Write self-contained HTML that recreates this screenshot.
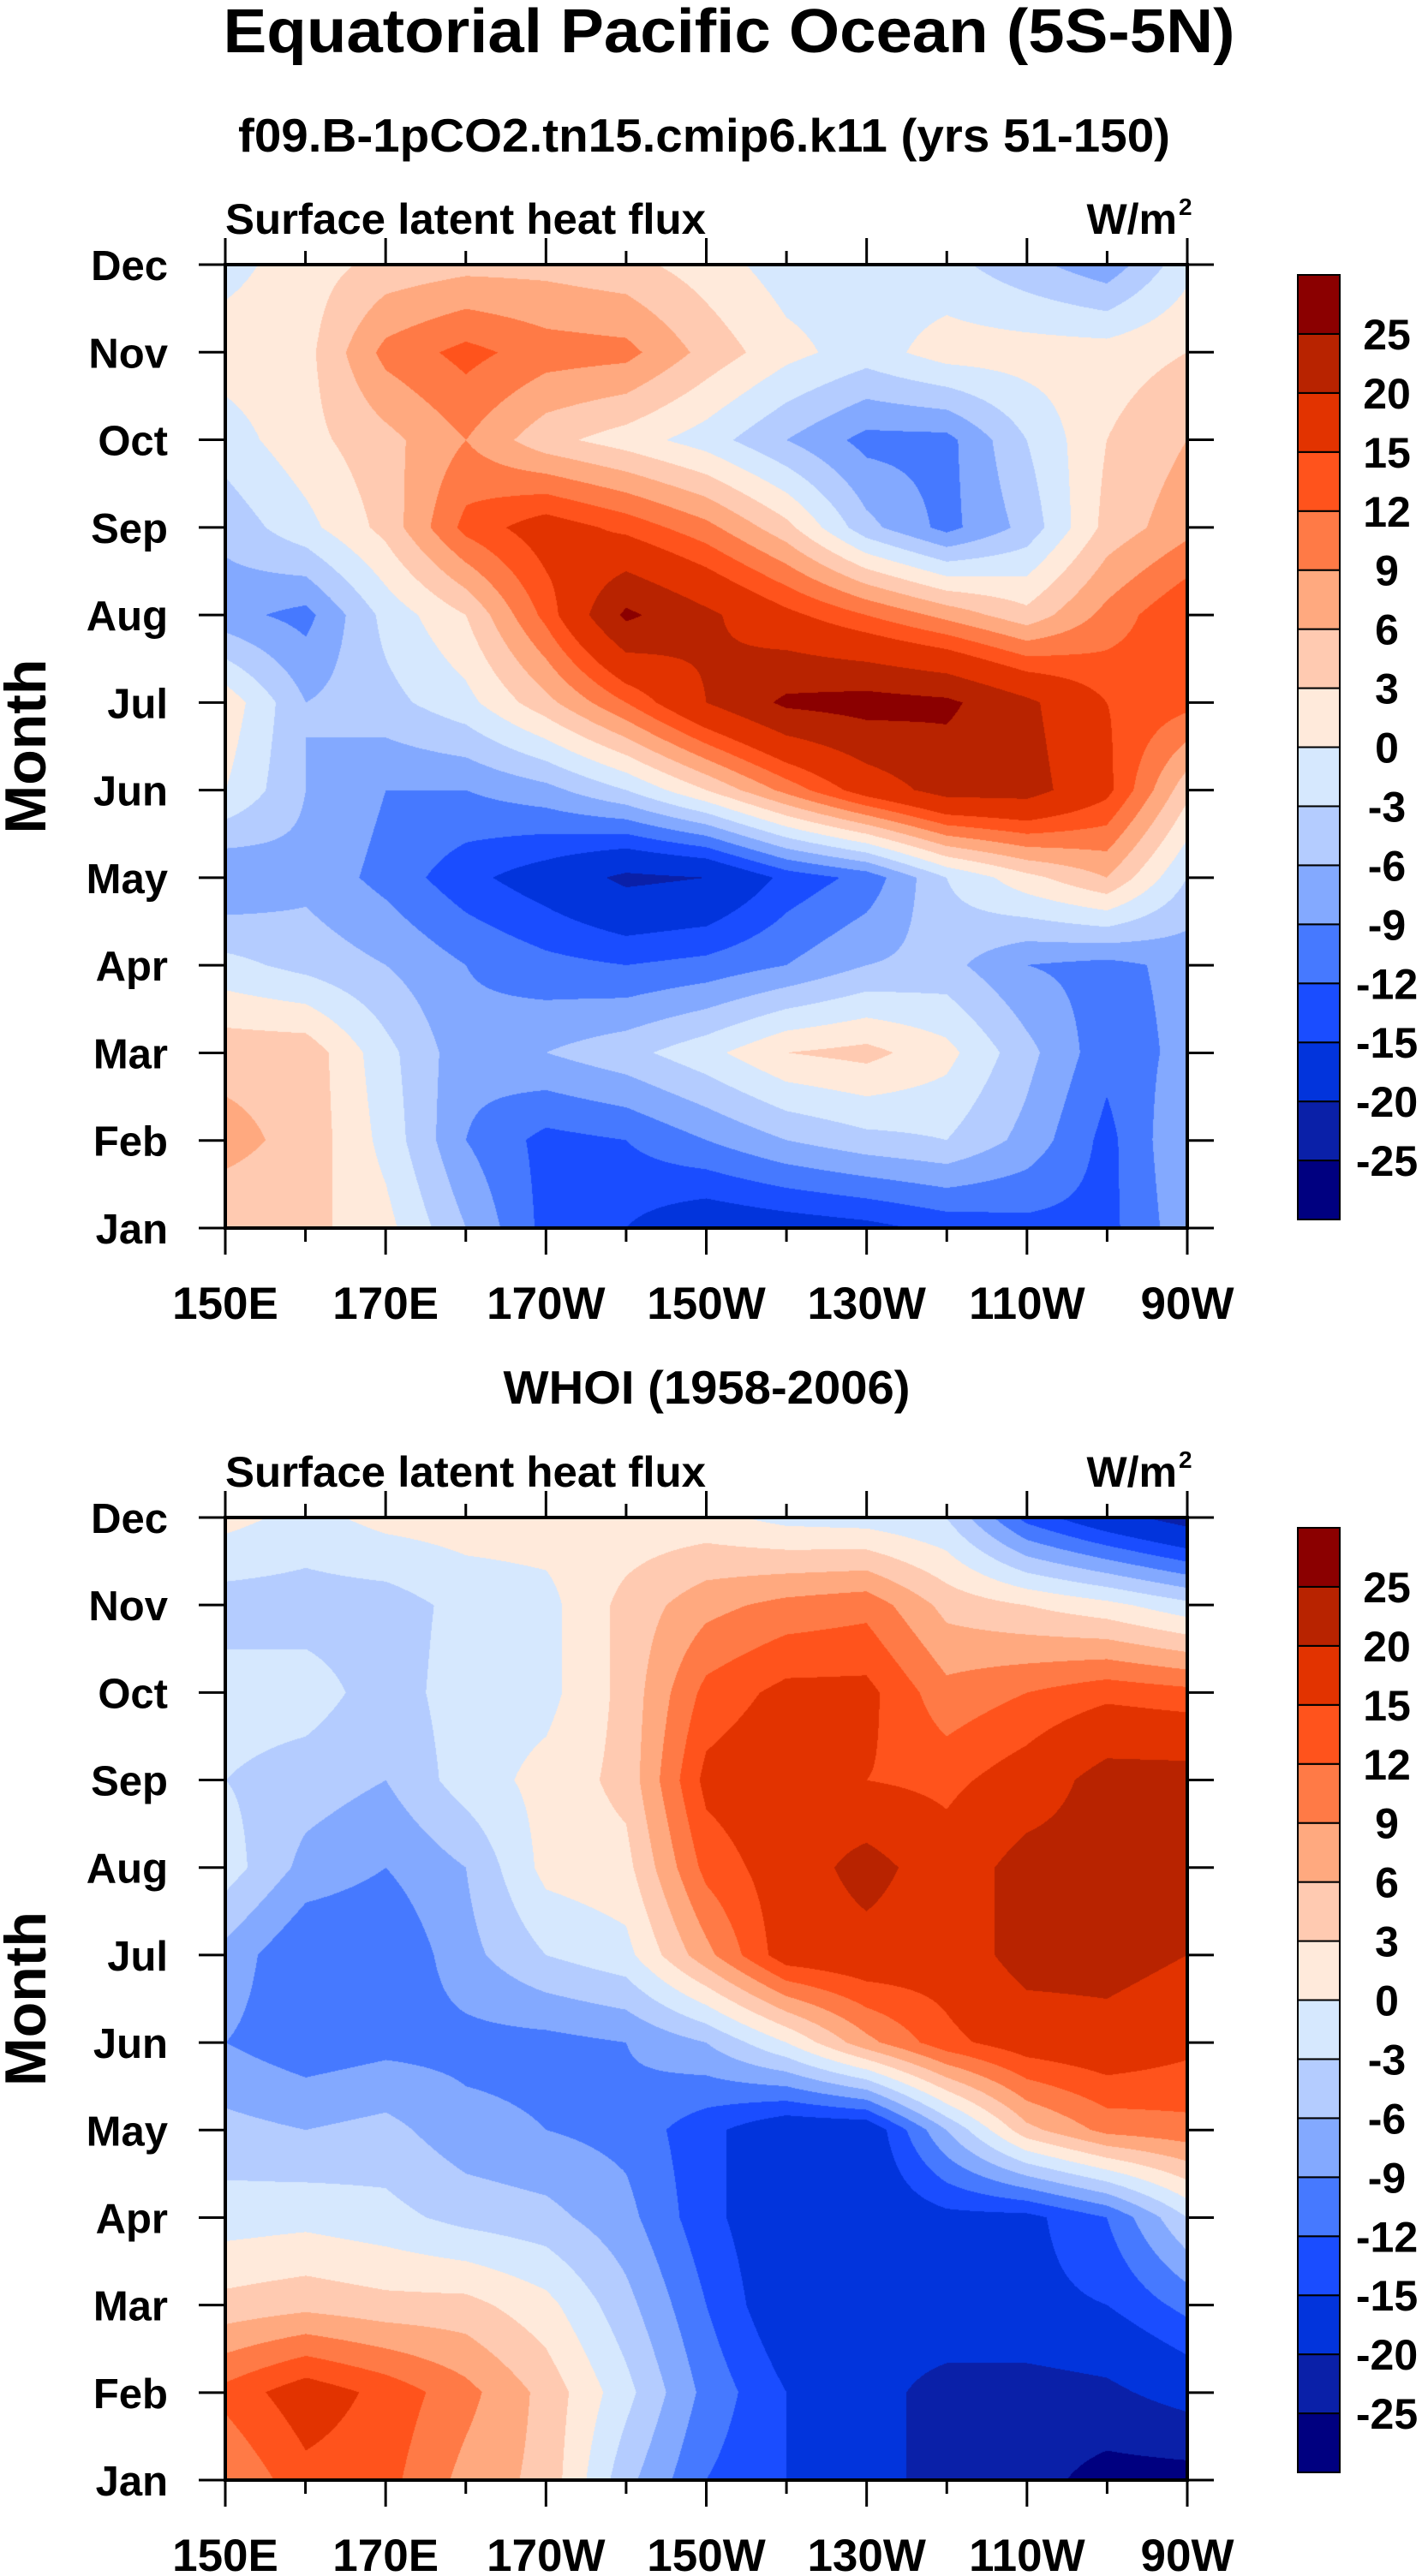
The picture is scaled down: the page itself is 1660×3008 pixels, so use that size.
<!DOCTYPE html>
<html><head><meta charset="utf-8">
<style>
html,body{margin:0;padding:0;background:#fff;}
#wrap{position:relative;width:1660px;height:3008px;overflow:hidden;}
canvas{position:absolute;}
svg{position:absolute;left:0;top:0;}
text{font-family:"Liberation Sans",sans-serif;font-weight:bold;fill:#000;}
</style></head>
<body>
<div id="wrap">
<canvas id="c1" width="1123" height="1125" style="left:263px;top:309px"></canvas>
<canvas id="c2" width="1123" height="1124" style="left:263px;top:1772px"></canvas>
<svg id="svg" width="1660" height="3008"></svg>
</div>
<script>
// ---- data ----
const months = ["Jan","Feb","Mar","Apr","May","Jun","Jul","Aug","Sep","Oct","Nov","Dec"];
const lonLabels = ["150E","170E","170W","150W","130W","110W","90W"];
const levels = [-25,-20,-15,-12,-9,-6,-3,0,3,6,9,12,15,20,25];
const levelColors = ["#000080","#0a20a8","#0234dc","#1a4dff","#4679ff","#83a9ff","#b4ccff","#d6e8fe","#ffeadb","#ffcab1","#ffa97f","#ff7a46","#ff531c","#e23300","#b82300","#8b0000"];
// top panel (rows Jan..Dec, cols 150E..90W every 10 deg)
const modelField = [
 [4,4,1,-6,-13,-15,-18,-17,-16,-14,-13,-13,-7],
 [7,5,-1,-9,-13,-12,-9,-6,-4,-3,-7,-13,-6],
 [5,5,-2,-8,-6,-4,-1,3,4,1,-5,-11,-8],
 [-2,-4,-6,-9,-11,-12,-11,-9,-6,-5,-9,-10,-8],
 [-9,-7,-10,-14,-17,-21,-20,-14,-11,-3,2,6,-3],
 [0,-6,-9,-9,-7,-3,3,10,17,22,22,16,4],
 [2,-6,-4,-1,5,12,20,26,27,26,21,15,13],
 [-8,-10,-2,3,13,26,21,16,12,8,4,10,15],
 [-5,-1,4,13,17,14,10,4,-5,-10,-5,4,8],
 [-1.5,2,5,9,4,1.5,-1.5,-6,-10,-10,-3,3,6],
 [1.5,2,10,13,10.5,10,5,1,-1.5,1.5,1.5,1.5,3],
 [-1,1.5,4,5,5,4,1.5,-1.5,-1.5,-2,-5,-8,-1]
];
// bottom panel WHOI
const whoiField = [
 [9,14,13,8,5,-5,-12,-15,-18,-22,-23,-27,-27],
 [13,17,14,10,5,-2,-10,-15,-18,-22,-22,-21,-18],
 [4,5,4,4,1,-5,-12,-18,-18,-16,-16,-15,-11],
 [-1.5,-1,-2,-4,-5,-8,-14,-18,-18,-16,-16,-12,-3],
 [-5,-6,-5,-8,-9,-10,-14,-18,-18,-6,5,10,11],
 [-9,-11,-10,-10,-10,-9,-6,0,8,14,17,18,16],
 [-7,-12,-12,-7,-3,-1,8,17,18,17,22,22,20],
 [-1.5,-7,-9,-6,1,2,13,17,22,17,22,22,21],
 [-3,-4.5,-6,-1.5,1,4,16,18,15,14,17,22,22],
 [-1.5,-1.5,-4.5,-1.5,-1,4,13,16,16,10,12,14,13],
 [-4.5,-4.5,-4.5,-2,-1,4,8,10,11,5,3,1,-2],
 [1,-1,1,1.5,1.5,1,1,-1,-1.5,-3,-13,-18,-22]
];
const colorbarLabels = ["-25","-20","-15","-12","-9","-6","-3","0","3","6","9","12","15","20","25"];

function levelIndex(v){let i=0;while(i<levels.length&&v>=levels[i])i++;return i;}
function hexRGB(h){return [parseInt(h.substr(1,2),16),parseInt(h.substr(3,2),16),parseInt(h.substr(5,2),16)];}
const rgb = levelColors.map(hexRGB);

function drawField(canvasId, field){
  const cv=document.getElementById(canvasId), ctx=cv.getContext('2d');
  const W=cv.width,H=cv.height, img=ctx.createImageData(W,H);
  const nr=field.length, nc=field[0].length;
  for(let py=0;py<H;py++){
    const fr=(H-1-py)/(H-1)*(nr-1); const r0=Math.min(Math.floor(fr),nr-2), tr=fr-r0;
    for(let px=0;px<W;px++){
      const fc=px/(W-1)*(nc-1); const c0=Math.min(Math.floor(fc),nc-2), tc=fc-c0;
      const v=(field[r0][c0]*(1-tc)+field[r0][c0+1]*tc)*(1-tr)+(field[r0+1][c0]*(1-tc)+field[r0+1][c0+1]*tc)*tr;
      const col=rgb[levelIndex(v)]; const k=(py*W+px)*4;
      img.data[k]=col[0];img.data[k+1]=col[1];img.data[k+2]=col[2];img.data[k+3]=255;
    }
  }
  ctx.putImageData(img,0,0);
}
drawField('c1',modelField);
drawField('c2',whoiField);

const NS="http://www.w3.org/2000/svg", svg=document.getElementById('svg');
function mk(tag,attrs,parent){const e=document.createElementNS(NS,tag);for(const k in attrs)e.setAttribute(k,attrs[k]);(parent||svg).appendChild(e);return e;}
function txt(s,attrs,name){const e=mk('text',attrs);e.textContent=s;
  
  
  return e;}

txt("Equatorial Pacific Ocean (5S-5N)",{x:851,y:61,'font-size':72,'text-anchor':'middle',textLength:1181,lengthAdjust:'spacingAndGlyphs'},'main-title');
txt("f09.B-1pCO2.tn15.cmip6.k11 (yrs 51-150)",{x:822,y:177,'font-size':55,'text-anchor':'middle',textLength:1088,lengthAdjust:'spacingAndGlyphs'},'model-subtitle');
txt("WHOI (1958-2006)",{x:825,y:1639,'font-size':55,'text-anchor':'middle',textLength:475,lengthAdjust:'spacingAndGlyphs'},'whoi-subtitle');

function panel(top,bottom,cbTop,cbBot,tag){
  const L=263,R=1386,Hh=bottom-top,W=R-L;
  const g=mk('g',{});
  
  
  txt("Surface latent heat flux",{x:263,y:top-36,'font-size':50,textLength:561,lengthAdjust:'spacingAndGlyphs'},tag+'-variable-label');
  txt("W/m",{x:1374,y:top-36,'font-size':50,'text-anchor':'end'},tag+'-units-label');
  txt("2",{x:1376,y:top-58,'font-size':28},tag+'-units-superscript');
  months.forEach((m,i)=>{
    const y=bottom-i*Hh/11;
    mk('line',{x1:232,y1:y,x2:L,y2:y,stroke:'#000','stroke-width':3},g);
    mk('line',{x1:R,y1:y,x2:1417,y2:y,stroke:'#000','stroke-width':3},g);
    txt(m,{x:196,y:y+18,'font-size':49,'text-anchor':'end'},tag+'-month-label');
  });
  for(let i=0;i<=12;i++){
    const x=L+i*W/12, len=(i%2==0)?31:16;
    mk('line',{x1:x,y1:top-len,x2:x,y2:top,stroke:'#000','stroke-width':3},g);
    mk('line',{x1:x,y1:bottom,x2:x,y2:bottom+len,stroke:'#000','stroke-width':3},g);
  }
  lonLabels.forEach((s,i)=>{
    txt(s,{x:L+i*W/6,y:bottom+106,'font-size':53,'text-anchor':'middle'},tag+'-lon-label');
  });
  mk('rect',{x:L,y:top,width:W,height:Hh,fill:'none',stroke:'#000','stroke-width':4},g);
  txt("Month",{x:0,y:0,'font-size':68,'text-anchor':'middle',transform:`translate(53,${(top+bottom)/2}) rotate(-90)`},tag+'-y-axis-title');
  const n=levelColors.length, bh=(cbBot-cbTop)/n;
  levelColors.forEach((c,i)=>{
    const r=mk('rect',{x:1515,y:cbBot-(i+1)*bh,width:49,height:bh,fill:c,stroke:'#000','stroke-width':2});
    
    
  });
  colorbarLabels.forEach((s,i)=>{
    txt(s,{x:1619,y:cbBot-(i+1)*bh+18,'font-size':50,'text-anchor':'middle'},tag+'-colorbar-label');
  });
}
panel(309,1434,321,1424,'model');
panel(1772,2896,1784,2887,'whoi');
</script>
</body></html>
